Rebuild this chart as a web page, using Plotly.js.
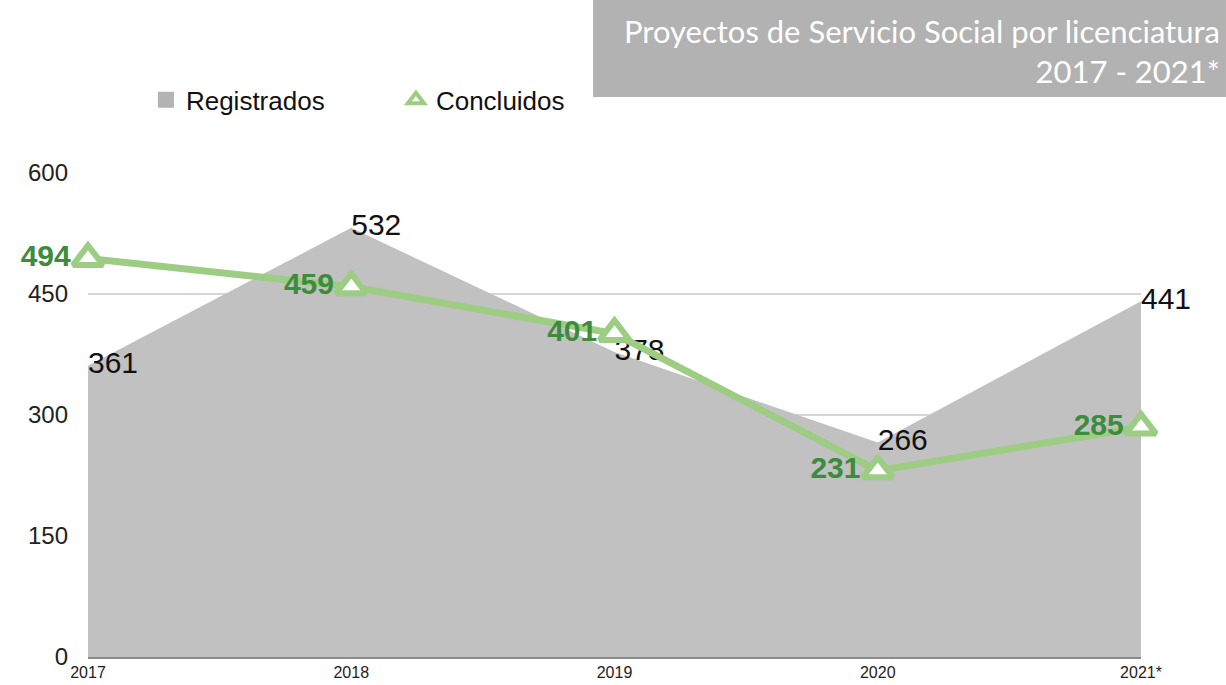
<!DOCTYPE html>
<html>
<head>
<meta charset="utf-8">
<script src="https://cdn.plot.ly/plotly-3.0.1.min.js"></script>
<style>html,body{margin:0;padding:0;background:#fff;}#chart{width:1226px;height:685px;}</style>
</head>
<body>
<div id="chart"></div>
<script>
const years = ["2017", "2018", "2019", "2020", "2021*"];
const registrados = [361, 532, 378, 266, 441];
const concluidos = [494, 459, 401, 231, 285];
const yTicks = [0, 150, 300, 450, 600];
const titleLines = ["Proyectos de Servicio Social por licenciatura", "2017 - 2021*"];

const green = '#9dcc83';
const darkGreen = '#3d8b3d';

const traces = [
  {
    x: years, y: registrados, name: 'Registrados', type: 'scatter',
    mode: 'text', fill: 'tozeroy', fillcolor: '#c1c1c1', showlegend: false,
    line: {width: 0, color: '#b5b5b5'},
    text: registrados.map(String), textposition: 'middle right',
    textfont: {family: 'Liberation Sans, Arial, sans-serif', size: 30, color: '#111'},
    cliponaxis: false, hoverinfo: 'x+y'
  },
  {
    x: years, y: concluidos, name: 'Concluidos', type: 'scatter',
    mode: 'lines+markers+text', showlegend: false,
    line: {color: green, width: 7},
    marker: {symbol: 'triangle-up', size: 26, color: '#ffffff', line: {color: green, width: 6}},
    text: concluidos.map(String), textposition: 'middle left',
    textfont: {family: 'Liberation Sans, Arial, sans-serif', size: 30, color: darkGreen, weight: 'bold'},
    cliponaxis: false
  },
  {
    x: [null], y: [null], name: 'Registrados', type: 'scatter', mode: 'markers',
    marker: {symbol: 'square', size: 19, color: '#b3b3b3'},
    hoverinfo: 'skip'
  },
  {
    x: [null], y: [null], name: 'Concluidos', type: 'scatter', mode: 'markers',
    marker: {symbol: 'triangle-up', size: 14, color: '#ffffff', line: {color: green, width: 4}},
    hoverinfo: 'skip'
  }
];

const layout = {
  width: 1226, height: 685,
  margin: {l: 88, r: 85, t: 173, b: 28},
  paper_bgcolor: '#ffffff', plot_bgcolor: '#ffffff',
  showlegend: true,
  legend: {
    orientation: 'h', x: 0.055, xanchor: 'left', y: 1.151, yanchor: 'middle',
    font: {family: 'Liberation Sans, Arial, sans-serif', size: 26, color: '#111'},
    entrywidth: 205, entrywidthmode: 'pixels', bgcolor: 'rgba(0,0,0,0)'
  },
  xaxis: {
    type: 'category', range: [0, 4], showgrid: false, zeroline: false,
    showline: true, linecolor: '#8a8a8a', linewidth: 2,
    ticks: '', tickfont: {family: 'Liberation Sans Narrow, Arial Narrow, sans-serif', size: 16, color: '#222'},
    fixedrange: true
  },
  yaxis: {
    range: [0, 600], tickvals: yTicks, ticktext: yTicks.map(String),
    showgrid: true, gridcolor: '#d6d6d6', gridwidth: 1.5, zeroline: false,
    ticks: '', ticklabelstandoff: 19,
    tickfont: {family: 'Liberation Sans, Arial, sans-serif', size: 24, color: '#222'},
    fixedrange: true
  },
  shapes: [{
    type: 'rect', xref: 'paper', yref: 'paper',
    x0: 0.4796, x1: 1.0807, y0: 1.157, y1: 1.36,
    fillcolor: '#b2b2b2', line: {width: 0}, layer: 'below'
  }],
  annotations: [{
    xref: 'paper', yref: 'paper', x: 1.0769, y: 1.252, xanchor: 'right', yanchor: 'middle',
    align: 'right', showarrow: false,
    text: titleLines.join('<br>'),
    font: {family: 'Lato, Open Sans, sans-serif', size: 31, color: '#ffffff'}
  }]
};

Plotly.newPlot('chart', traces, layout, {displayModeBar: false, staticPlot: true});
</script>
</body>
</html>
